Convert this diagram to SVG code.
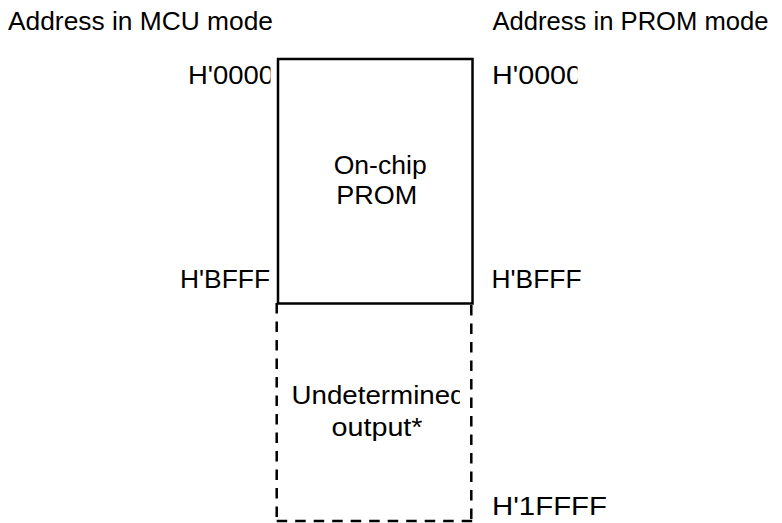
<svg xmlns="http://www.w3.org/2000/svg" width="782" height="523" viewBox="0 0 782 523">
<style>
  .t { font-family: "Liberation Sans", Arial, sans-serif; font-size: 25.5px; fill: #000; }
  .solid { fill: none; stroke: #000; stroke-width: 2.5; }
  .dash { fill: none; stroke: #000; stroke-width: 2.5; stroke-dasharray: 10.5 8; }
</style>
<defs>
  <clipPath id="clipL0"><rect x="0" y="40" width="270.5" height="60"/></clipPath>
  <clipPath id="clipR0"><rect x="480" y="40" width="97.5" height="60"/></clipPath>
  <clipPath id="clipU"><rect x="270" y="370" width="190" height="50"/></clipPath>
</defs>
<rect width="782" height="523" fill="#fff"/>
<g id="headers">
  <text class="t" x="8" y="30" textLength="265" lengthAdjust="spacingAndGlyphs">Address in MCU mode</text>
  <text class="t" x="492.5" y="30" textLength="276" lengthAdjust="spacingAndGlyphs">Address in PROM mode</text>
</g>
<g id="node-prom">
  <rect class="solid" x="278" y="59" width="194.5" height="244.5"/>
  <text class="t" x="333.7" y="173.5" textLength="93" lengthAdjust="spacingAndGlyphs">On-chip</text>
  <text class="t" x="336.3" y="204" textLength="81" lengthAdjust="spacingAndGlyphs">PROM</text>
</g>
<g id="node-undetermined">
  <line class="dash" x1="276.7" y1="303" x2="276.7" y2="521"/>
  <line class="dash" x1="471.3" y1="305" x2="471.3" y2="521"/>
  <line class="dash" x1="276.7" y1="521" x2="472.3" y2="521"/>
  <g clip-path="url(#clipU)">
    <text class="t" x="291.5" y="403.5" textLength="174" lengthAdjust="spacingAndGlyphs">Undetermined</text>
  </g>
  <text class="t" x="331.5" y="435.5" textLength="91" lengthAdjust="spacingAndGlyphs">output*</text>
</g>
<g id="addresses-mcu">
  <g clip-path="url(#clipL0)">
    <text class="t" x="188" y="83.5" textLength="86" lengthAdjust="spacingAndGlyphs">H'0000</text>
  </g>
  <text class="t" x="180" y="287.5" textLength="90" lengthAdjust="spacingAndGlyphs">H'BFFF</text>
</g>
<g id="addresses-prom">
  <g clip-path="url(#clipR0)">
    <text class="t" x="492" y="83.5" textLength="90" lengthAdjust="spacingAndGlyphs">H'0000</text>
  </g>
  <text class="t" x="491.5" y="287.5" textLength="90" lengthAdjust="spacingAndGlyphs">H'BFFF</text>
  <text class="t" x="492" y="515" textLength="115" lengthAdjust="spacingAndGlyphs">H'1FFFF</text>
</g>
<g id="connectors"></g>
</svg>
